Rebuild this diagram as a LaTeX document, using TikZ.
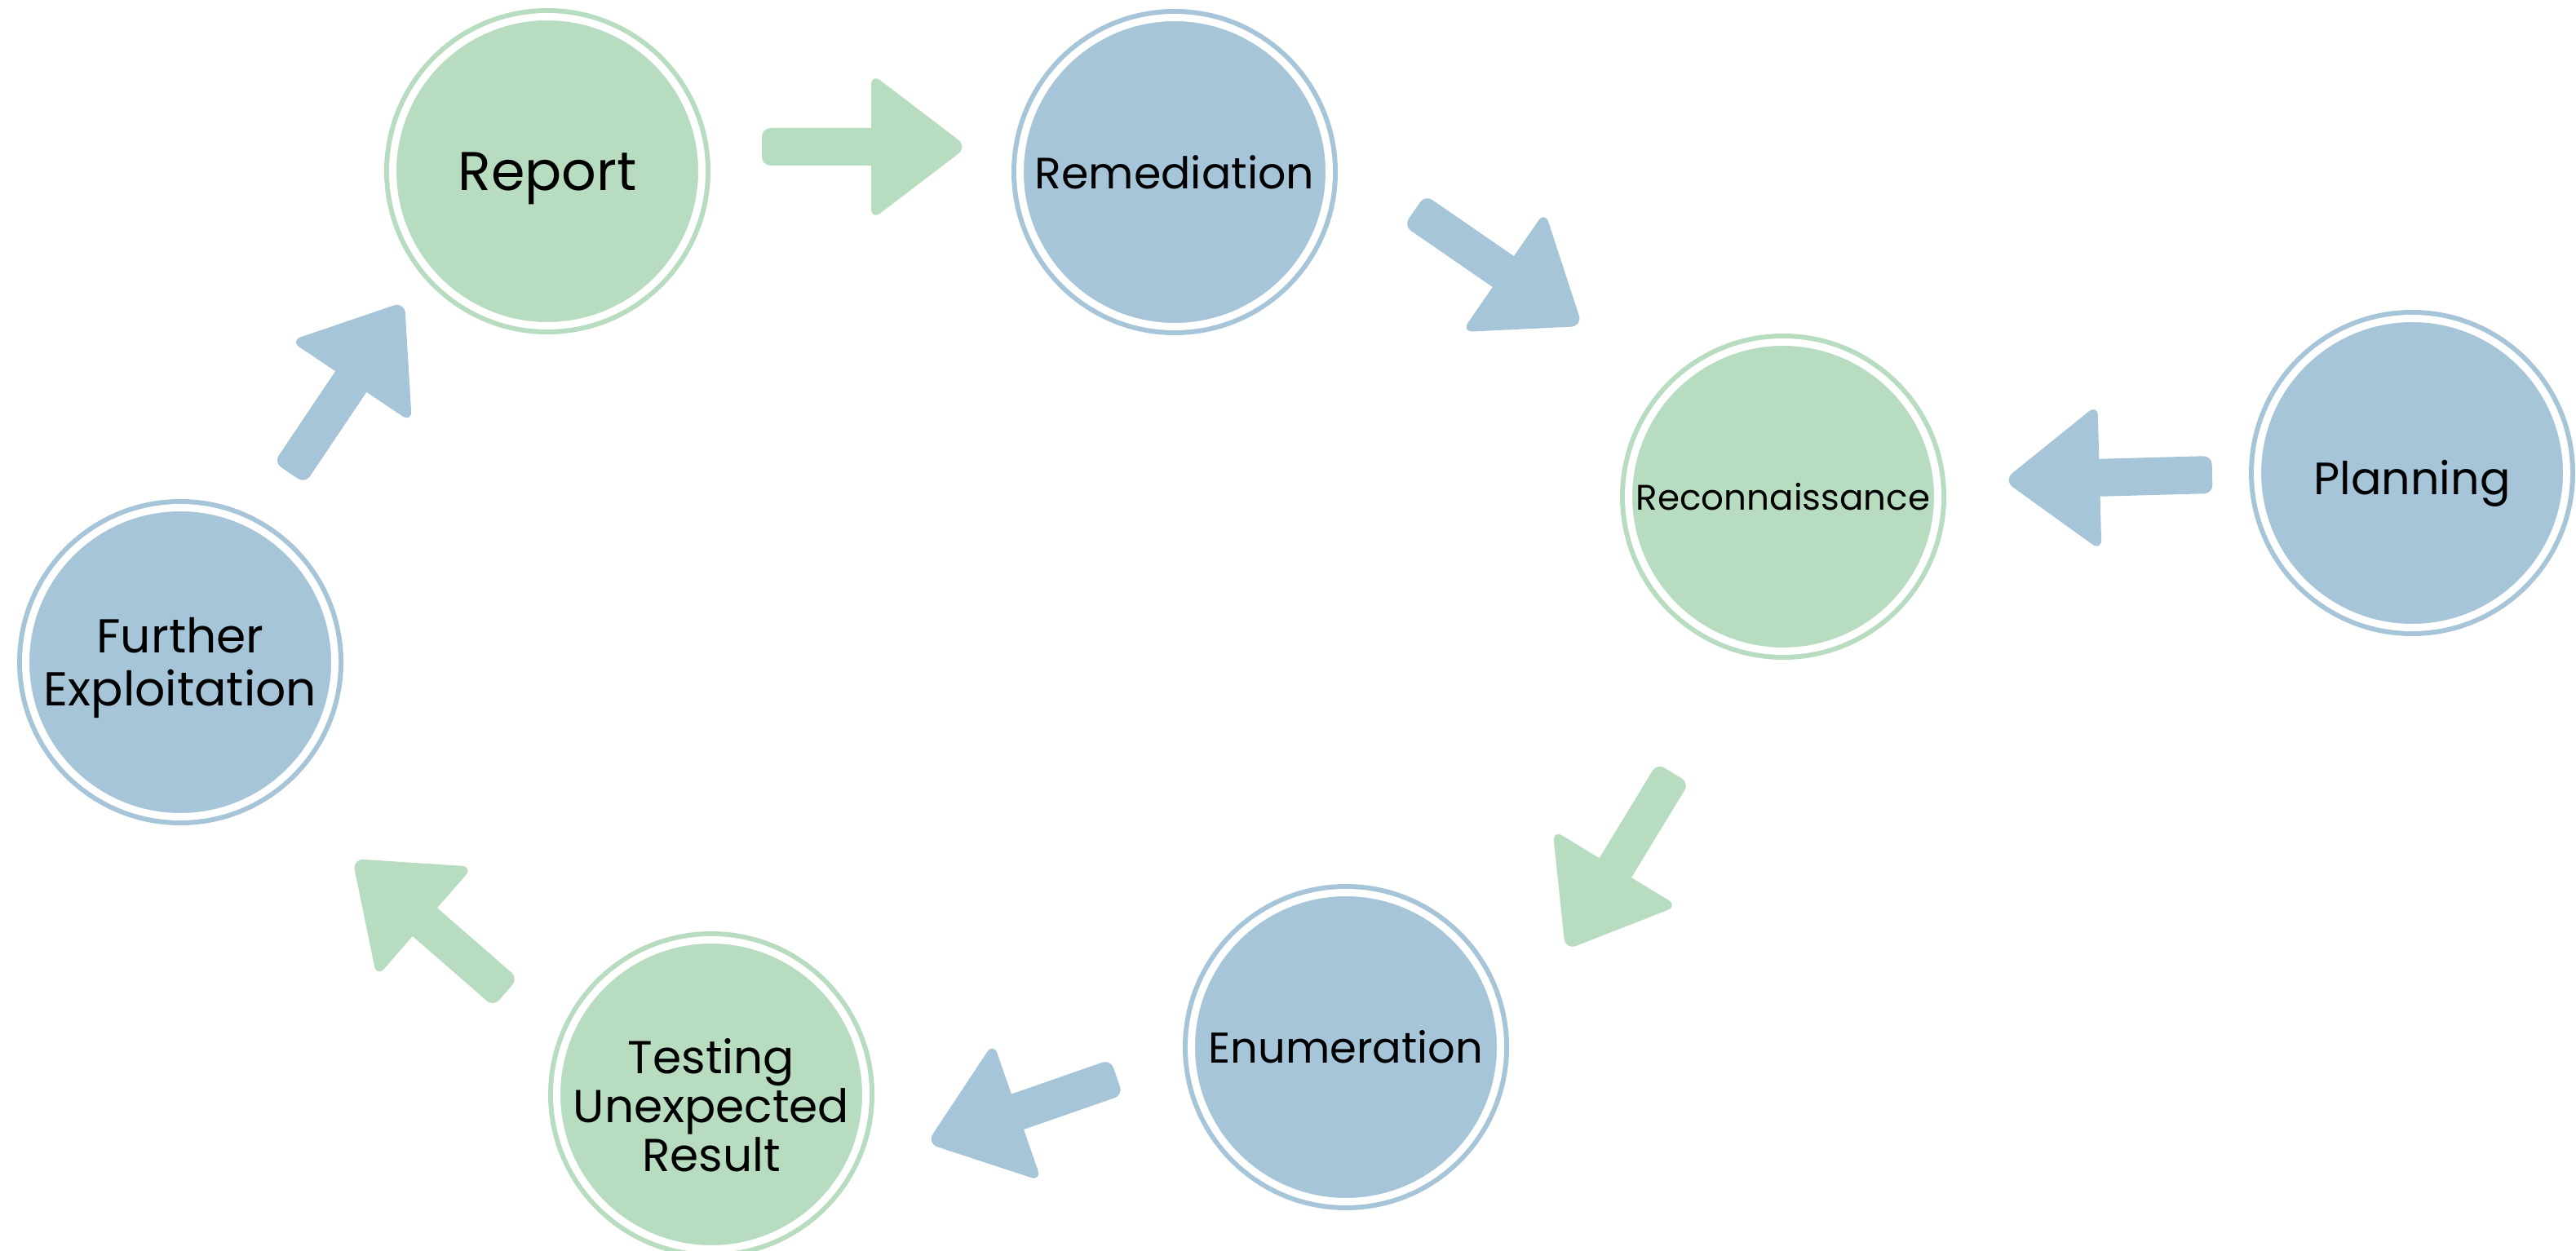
\documentclass[tikz,border=0pt]{standalone}
\usepackage{fontspec}
\setmainfont{Poppins}
\usepackage{tikz}
\usetikzlibrary{calc}
\definecolor{stagegreen}{HTML}{B8DCC0}
\definecolor{stageblue}{HTML}{A6C5D8}

\begin{document}
\begin{tikzpicture}
            \tikzstyle{stage}=[circle, minimum size = 3.79cm, inner sep=-5mm, align=center, line width=0.06cm, double=white, double distance=0.09cm]
            \tikzstyle{greenstage}=[stage, fill=stagegreen, draw=stagegreen]
            \tikzstyle{bluestage}=[stage, fill=stageblue, draw=stageblue]
            \tikzstyle{flow}=[rounded corners=3pt, draw=none, to path={let \p1=($(\tikztotarget)!1.18cm!(\tikztostart)$), \p2=($(\tikztotarget)!0.95cm!(\tikztostart)$) in
                ($(\tikztostart)!0.23cm!90:(\tikztotarget)$) -- ($(\p2)!0.23cm!90:(\tikztotarget)$) -- ($(\p2)!0.23cm!-90:(\tikztotarget)$) -- ($(\tikztostart)!0.23cm!-90:(\tikztotarget)$) -- cycle
                [rounded corners=4pt] ($(\p1)!0.9cm!90:(\tikztotarget)$) -- (\tikztotarget) -- ($(\p1)!0.9cm!-90:(\tikztotarget)$) -- cycle}]
            \tikzstyle{greenflow}=[flow, fill=stagegreen]
            \tikzstyle{blueflow}=[flow, fill=stageblue]
            \useasboundingbox (0,0) rectangle (31.58,-15.34);
            {\node[greenstage, text depth=0pt, font=\fontsize{19}{23}\selectfont] (report) at (6.71,-2.10){Report};
            \node[bluestage, font=\fontsize{15.3}{18}\selectfont] (remediation) at (14.40,-2.11){Remediation};
            \node[greenstage, font=\fontsize{12.4}{15}\selectfont] (recon) at (21.86,-6.09){Reconnaissance};
            \node[bluestage, text depth=0pt, font=\fontsize{15.8}{19}\selectfont] (planning) at (29.57,-5.80){\rule{0pt}{15pt}Planning};
            \node[bluestage, font=\fontsize{15}{18}\selectfont] (enum) at (16.50,-12.84){Enumeration};
            \node[greenstage, font=\fontsize{16.1}{17.1}\selectfont] (testing) at (8.72,-13.42){\rule{0pt}{20pt}Testing\\Unexpected\\Result};
            \node[bluestage, font=\fontsize{16.6}{18.5}\selectfont] (further) at (2.21,-8.12){\rule{0pt}{16pt}Further\\Exploitation};}
            \coordinate (a1s) at (9.34,-1.80);   \coordinate (a1e) at (11.86,-1.80);
            \coordinate (a2s) at (27.12,-5.82);  \coordinate (a2e) at (24.56,-5.89);
            \coordinate (a3s) at (17.34,-2.58);  \coordinate (a3e) at (19.40,-4.00);
            \coordinate (a4s) at (20.51,-9.48);  \coordinate (a4e) at (19.19,-11.65);
            \coordinate (a5s) at (13.69,-13.21); \coordinate (a5e) at (11.36,-14.02);
            \coordinate (a6s) at (6.20,-12.17);  \coordinate (a6e) at (4.32,-10.53);
            \coordinate (a7s) at (3.55,-5.80);   \coordinate (a7e) at (4.96,-3.70);
\path (a1s) edge [greenflow] (a1e);
            \path (a2s) edge [blueflow] (a2e);
            \path (a3s) edge [blueflow] (a3e);
            \path (a4s) edge [greenflow] (a4e);
            \path (a5s) edge [blueflow] (a5e);
            \path (a6s) edge [greenflow] (a6e);
            \path (a7s) edge [blueflow] (a7e);
        \end{tikzpicture}
\end{document}
